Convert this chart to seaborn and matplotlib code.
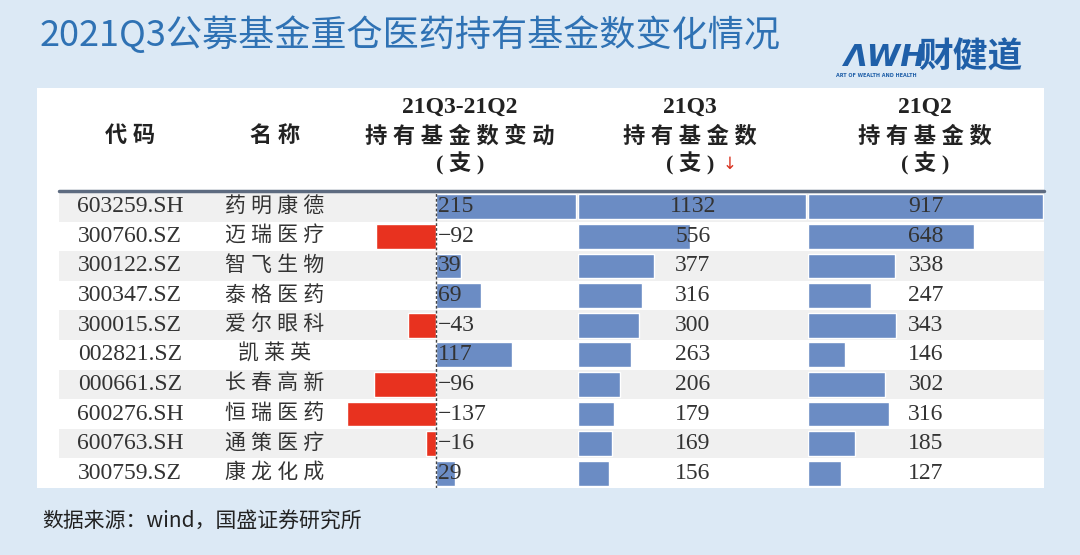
import numpy as np
import pandas as pd
import seaborn as sns
import matplotlib.pyplot as plt

codes = ['603259.SH', '300760.SZ', '300122.SZ', '300347.SZ', '300015.SZ',
         '002821.SZ', '000661.SZ', '600276.SH', '600763.SH', '300759.SZ']
names = ['药明康德', '迈瑞医疗', '智飞生物', '泰格医药', '爱尔眼科',
         '凯莱英', '长春高新', '恒瑞医药', '通策医疗', '康龙化成']
q3 = [1132, 556, 377, 316, 300, 263, 206, 179, 169, 156]
q2 = [917, 648, 338, 247, 343, 146, 302, 316, 185, 127]
change = [215, -92, 39, 69, -43, 117, -96, -137, -16, 29]

title = '2021Q3公募基金重仓医药持有基金数变化情况'
source = '数据来源：wind，国盛证券研究所'

df = pd.DataFrame({'code': codes, 'name': names, 'q3': q3, 'q2': q2, 'chg': change})
df['sign'] = np.where(df['chg'] < 0, 'neg', 'pos')

sns.set_theme(style='white')
plt.rcParams['font.family'] = ['Liberation Serif', 'Noto Sans CJK SC', 'DejaVu Sans']

W, H = 1080, 555
BG = '#dce9f5'
BLUE = '#6b8cc4'
RED = '#e8321f'
TXT = '#333333'
NUM = 17

fig = plt.figure(figsize=(W / 100, H / 100), dpi=100, facecolor=BG)


def box(x0, y0, x1, y1):
    # pixel box -> figure fraction rect
    return [x0 / W, 1 - y1 / H, (x1 - x0) / W, (y1 - y0) / H]


# white table panel
panel = fig.add_axes(box(37, 88, 1044, 488))
panel.set_facecolor('white')
panel.set_xticks([])
panel.set_yticks([])
for s in panel.spines.values():
    s.set_visible(False)

# table body background with striped rows and code / name columns
body_top, body_bot = 192, 488
ax_bg = fig.add_axes(box(59, body_top, 1044, body_bot))
ax_bg.set_xlim(59, 1044)
ax_bg.set_ylim(len(df) - 0.5, -0.5)
ax_bg.axis('off')
for i in range(len(df)):
    if i % 2 == 0:
        ax_bg.axhspan(i - 0.5, i + 0.5, color='#f0f0f0', lw=0)
    ax_bg.text(130, i, df['code'][i], ha='center', va='center', fontsize=NUM, color=TXT)
    ax_bg.text(275, i, ' '.join(df['name'][i]), ha='center', va='center', fontsize=15, color=TXT)

# header line
fig.add_artist(plt.Line2D([59 / W, 1044 / W], [1 - 191 / H, 1 - 191 / H],
                          color='#5d6b80', lw=2.5))


def bar_axes(x0, x1, xlim):
    ax = fig.add_axes(box(x0, body_top, x1, body_bot))
    ax.patch.set_alpha(0)
    ax.set_xlim(*xlim)
    return ax


bar_kw = dict(orient='h', width=0.84, saturation=1, legend=False)

# change column
ax_c = bar_axes(340, 577, (-(436 - 340) / 0.65, (577 - 436) / 0.65))
sns.barplot(data=df, x='chg', y='code', hue='sign', palette={'neg': RED, 'pos': BLUE},
            dodge=False, ax=ax_c, **bar_kw)
ax_c.axvline(0, color='#444444', lw=1, ls=(0, (2, 1.5)))
for i, v in enumerate(df['chg']):
    ax_c.annotate(f'{v}'.replace('-', '−'), (0, i), xytext=(1.5, 0), textcoords='offset points',
                  ha='left', va='center', fontsize=NUM, color=TXT)

# 21Q3 column
ax_3 = bar_axes(578, 808, (0, 1140))
sns.barplot(data=df, x='q3', y='code', color=BLUE, ax=ax_3, **bar_kw)
for i, v in enumerate(df['q3']):
    ax_3.text(0.5, i, f'{v}', transform=ax_3.get_yaxis_transform(), ha='center',
              va='center', fontsize=NUM, color=TXT)

# 21Q2 column
ax_2 = bar_axes(808, 1044, (0, 920))
sns.barplot(data=df, x='q2', y='code', color=BLUE, ax=ax_2, **bar_kw)
for i, v in enumerate(df['q2']):
    ax_2.text(0.5, i, f'{v}', transform=ax_2.get_yaxis_transform(), ha='center',
              va='center', fontsize=NUM, color=TXT)

for ax in (ax_c, ax_3, ax_2):
    ax.set_ylim(len(df) - 0.5, -0.5)
    ax.axis('off')

# column headers
hdr = dict(ha='center', va='center', fontsize=16, color='#222222', fontweight='bold')
for x, t in [(460, '21Q3-21Q2'), (690, '21Q3'), (925, '21Q2')]:
    fig.text(x / W, 1 - 107 / H, t, **dict(hdr, fontsize=17))
for x, t in [(130, '代码'), (275, '名称'), (460, '持有基金数变动'),
             (690, '持有基金数'), (925, '持有基金数')]:
    fig.text(x / W, 1 - 137 / H, ' '.join(t), **hdr)
for x in (460, 690, 925):
    fig.text(x / W, 1 - 164 / H, '( 支 )', **hdr)
fig.text(730 / W, 1 - 164 / H, '↓', ha='center', va='center', fontsize=12,
         color='#d9321f', family=['DejaVu Sans'])

# title, logo, source
fig.text(40 / W, 1 - 35 / H, title, ha='left', va='center', fontsize=26,
         color='#2f72b4', family=['Noto Sans CJK SC', 'DejaVu Sans'])
fig.text(843 / W, 1 - 57 / H, 'ΛWH', ha='left', va='center', fontsize=22,
         color='#1f5fa8', family=['DejaVu Sans'], fontweight='bold', fontstyle='italic')
fig.text(918 / W, 1 - 57 / H, '财健道', ha='left', va='center', fontsize=25,
         color='#1f5fa8', family=['Noto Sans CJK SC'], fontweight='bold')
fig.text(836 / W, 1 - 76 / H, 'ART OF WEALTH AND HEALTH', ha='left', va='center',
         fontsize=3.5, color='#1f5fa8', family=['DejaVu Sans'], fontweight='bold')
fig.text(42 / W, 1 - 522 / H, source, ha='left', va='center', fontsize=15,
         color='#222222', family=['Noto Sans CJK SC', 'DejaVu Sans'])

fig.savefig('out.png', dpi=100, facecolor=BG)
